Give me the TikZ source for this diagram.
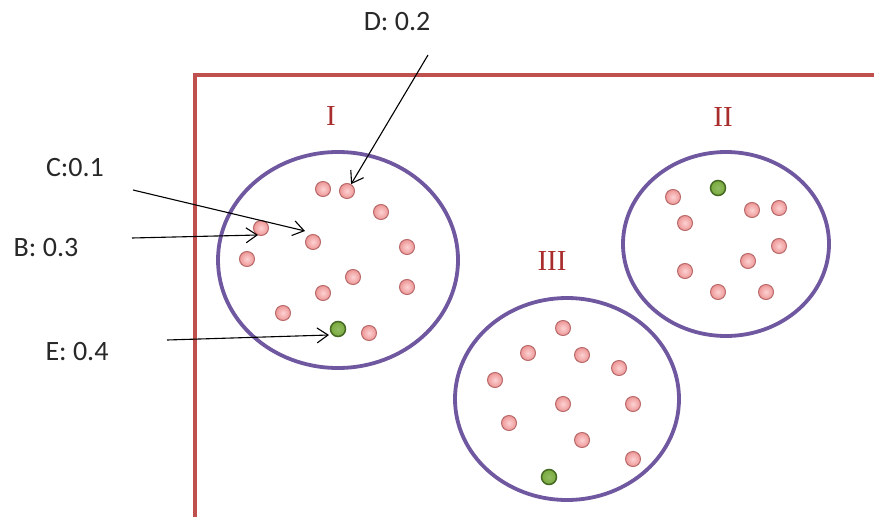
\documentclass[tikz,border=0pt]{standalone}
\usepackage{fontspec}
\setmainfont{Carlito}
\newfontfamily\numfont{Liberation Serif}
\usetikzlibrary{shapes.geometric,arrows.meta}
\definecolor{boxred}{RGB}{192,80,77}
\definecolor{numred}{RGB}{170,45,45}
\definecolor{grp}{RGB}{112,88,160}
\definecolor{pinkin}{RGB}{252,210,210}
\definecolor{pinkout}{RGB}{238,150,150}
\definecolor{pinkline}{RGB}{185,105,105}
\definecolor{grn}{RGB}{120,170,60}
\definecolor{grnline}{RGB}{70,105,35}
\definecolor{txt}{RGB}{40,40,40}
\tikzset{
  dot/.style={circle,minimum size=15pt,inner sep=0pt,draw=pinkline,line width=1pt,inner color=pinkin,outer color=pinkout},
  gdot/.style={circle,minimum size=15pt,inner sep=0pt,draw=grnline,line width=1.5pt,inner color=grn!80!white,outer color=grn},
  group/.style={ellipse,draw=grp,line width=3.8pt,inner sep=0pt},
  roman/.style={font=\numfont\fontsize{29}{30}\selectfont,text=numred,inner sep=0pt},
  lbl/.style={font=\fontsize{28}{30}\selectfont,text=txt,inner sep=0pt},
  ptr/.style={draw=black,line width=1.1pt,-{Straight Barb[length=11pt,width=15pt,line width=1.1pt]}}
}
\begin{document}
\begin{tikzpicture}[x=1pt,y=-1pt]
\path[use as bounding box,fill=white] (0,0) rectangle (874,516);
\clip (0,0) rectangle (874,516);
% frame
\draw[boxred,line width=3.5pt] (195,530) -- (195,75) -- (890,75);
% groups
\node[group,minimum width=240pt,minimum height=216pt] (gI) at (338,260) {};
\node[group,minimum width=206pt,minimum height=184pt] (gII) at (726,244) {};
\node[group,minimum width=224pt,minimum height=202pt] (gIII) at (567,399) {};
\node[roman] (nI) at (331,116) {I};
\node[roman] (nII) at (723,117) {II};
\node[roman] (nIII) at (552,261) {III};
% group I dots
\node[dot] (a1) at (323,189) {};
\node[dot] (a2) at (347,191) {};
\node[dot] (a3) at (381,212) {};
\node[dot] (a4) at (261,228) {};
\node[dot] (a5) at (313,242) {};
\node[dot] (a6) at (407,247) {};
\node[dot] (a7) at (247,259) {};
\node[dot] (a8) at (353,277) {};
\node[dot] (a9) at (323,293) {};
\node[dot] (a10) at (407,287) {};
\node[dot] (a11) at (283,313) {};
\node[gdot] (a12) at (338,329) {};
\node[dot] (a13) at (369,333) {};
% group II dots
\node[dot] (b1) at (673,197) {};
\node[gdot] (b2) at (718,188) {};
\node[dot] (b3) at (752,210) {};
\node[dot] (b4) at (779,208) {};
\node[dot] (b5) at (685,223) {};
\node[dot] (b6) at (779,246) {};
\node[dot] (b7) at (748,261) {};
\node[dot] (b8) at (685,271) {};
\node[dot] (b9) at (718,292) {};
\node[dot] (b10) at (766,292) {};
% group III dots
\node[dot] (c1) at (563,328) {};
\node[dot] (c2) at (528,353) {};
\node[dot] (c3) at (582,355) {};
\node[dot] (c4) at (619,368) {};
\node[dot] (c5) at (495,380) {};
\node[dot] (c6) at (563,404) {};
\node[dot] (c7) at (633,404) {};
\node[dot] (c8) at (509,423) {};
\node[dot] (c9) at (582,440) {};
\node[dot] (c10) at (633,459) {};
\node[gdot] (c11) at (549,477) {};
% labels
\node[lbl] (lD) at (397,22) {D: 0.2};
\node[lbl] (lC) at (75,168) {C:0.1};
\node[lbl] (lB) at (46,248) {B: 0.3};
\node[lbl] (lE) at (77,352) {E: 0.4};
% arrows
\coordinate (sD) at (428,55);
\coordinate (sC) at (133,190);
\coordinate (tC) at (305,231);
\coordinate (sB) at (132,238);
\coordinate (tB) at (258,235);
\coordinate (sE) at (167,340);
\coordinate (tE) at (329,335);
\draw[ptr] (sD) -- (a2);
\draw[ptr] (sC) -- (tC);
\draw[ptr] (sB) -- (tB);
\draw[ptr] (sE) -- (tE);
\end{tikzpicture}
\end{document}
